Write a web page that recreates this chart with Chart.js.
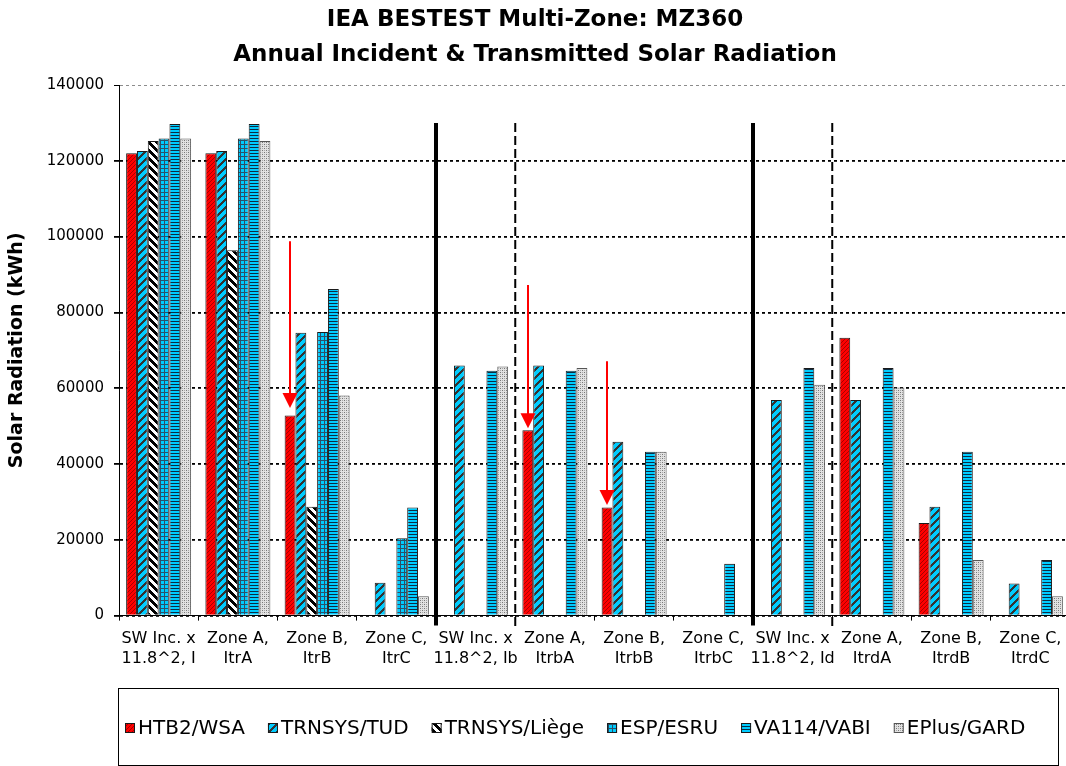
<!DOCTYPE html>
<html>
<head>
<meta charset="utf-8">
<title>IEA BESTEST Multi-Zone: MZ360</title>
<script src="https://cdn.jsdelivr.net/npm/chart.js@4.4.1/dist/chart.umd.min.js"></script>
<style>
  html, body { margin: 0; padding: 0; background: #fff; overflow: hidden; }
  canvas { display: block; }
</style>
</head>
<body>
<canvas id="mzChart" width="1075" height="766"></canvas>
<script>
// categories (two-line tick labels)
const zones = [
  ['SW Inc. x', '11.8^2, I'], ['Zone A,', 'ItrA'], ['Zone B,', 'ItrB'], ['Zone C,', 'ItrC'],
  ['SW Inc. x', '11.8^2, Ib'], ['Zone A,', 'ItrbA'], ['Zone B,', 'ItrbB'], ['Zone C,', 'ItrbC'],
  ['SW Inc. x', '11.8^2, Id'], ['Zone A,', 'ItrdA'], ['Zone B,', 'ItrdB'], ['Zone C,', 'ItrdC']
];

// annual solar radiation, kWh
const htb2Wsa     = [122000, 122000, 52800, null, null, 48900, 28500, null, null, 73300, 24400, null];
const trnsysTud   = [122600, 122600, 74600, 8700, 66000, 66000, 45900, null, 56900, 56900, 28700, 8500];
const trnsysLiege = [125200, 96400, 28700, null, null, null, null, null, null, null, null, null];
const espEsru     = [125900, 125900, 74800, 20400, null, null, null, null, null, null, null, null];
const va114Vabi   = [129700, 129700, 86200, 28500, 64600, 64600, 43200, 13700, 65300, 65300, 43200, 14700];
const eplusGard   = [125900, 125200, 58100, 5100, 65700, 65300, 43200, null, 60900, 60200, 14700, 5100];

// red arrows pointing at the HTB2 bars
const arrowZone = [2, 5, 6];
const arrowFrom = [98800, 87200, 67100];
const arrowTo   = [54800, 49400, 29200];

// separators drawn between zones (after index)
const heavySplits  = [3, 7];
const dashedSplits = [4, 8];

const yTicks = [0, 20000, 40000, 60000, 80000, 100000, 120000, 140000];

const CYAN = '#00ccff';

function pattern(w, h, paint) {
  const c = document.createElement('canvas');
  c.width = w; c.height = h;
  const g = c.getContext('2d');
  paint(g);
  return g.createPattern(c, 'repeat');
}

const patHtb2 = pattern(4, 4, g => {
  g.fillStyle = '#ff0000'; g.fillRect(0, 0, 4, 4);
  g.fillStyle = '#a80000';
  for (let i = 0; i < 4; i++) g.fillRect(i, 3 - i, 1, 1);
});
const patTud = pattern(8, 8, g => {
  g.fillStyle = CYAN; g.fillRect(0, 0, 8, 8);
  g.fillStyle = '#333333';
  for (let x = 0; x < 8; x++) for (let t = 0; t < 3; t++) g.fillRect(x, (7 - x + t) % 8, 1, 1);
});
const patLiege = pattern(8, 8, g => {
  g.fillStyle = '#ffffff'; g.fillRect(0, 0, 8, 8);
  g.fillStyle = '#000000';
  for (let x = 0; x < 8; x++) for (let t = 0; t < 4; t++) g.fillRect(x, (x + t) % 8, 1, 1);
});
const patEsp = pattern(4, 4, g => {
  g.fillStyle = CYAN; g.fillRect(0, 0, 4, 4);
  g.fillStyle = '#2c5068';
  g.fillRect(0, 0, 1, 4); g.fillRect(0, 0, 4, 1);
});
const patVa = pattern(3, 3, g => {
  g.fillStyle = CYAN; g.fillRect(0, 0, 3, 3);
  g.fillStyle = '#0b2c44';
  g.fillRect(0, 0, 3, 1);
});
const patEplus = pattern(4, 4, g => {
  g.fillStyle = '#e2e2e2'; g.fillRect(0, 0, 4, 4);
  g.fillStyle = '#777777';
  g.fillRect(0, 0, 1, 1); g.fillRect(2, 2, 1, 1);
  g.fillStyle = '#a8a8a8';
  g.fillRect(2, 0, 1, 1); g.fillRect(0, 2, 1, 1);
});

const FONT = '"DejaVu Sans", sans-serif';

const splitLines = {
  id: 'splitLines',
  afterDatasetsDraw(chart) {
    const {ctx, scales: {x, y}} = chart;
    const top = y.getPixelForValue(130000);
    const mid = i => (x.getPixelForValue(i) + x.getPixelForValue(i + 1)) / 2;
    ctx.save();
    ctx.strokeStyle = '#000';
    ctx.lineWidth = 4;
    heavySplits.forEach(i => {
      ctx.beginPath(); ctx.moveTo(mid(i), top); ctx.lineTo(mid(i), y.bottom + 10); ctx.stroke();
    });
    ctx.lineWidth = 2;
    ctx.setLineDash([9, 4]);
    dashedSplits.forEach(i => {
      ctx.beginPath(); ctx.moveTo(mid(i), top); ctx.lineTo(mid(i), y.bottom + 11); ctx.stroke();
    });
    ctx.restore();

    // arrows
    const bars = chart.getDatasetMeta(0).data;
    ctx.save();
    ctx.strokeStyle = '#ff0000';
    ctx.fillStyle = '#ff0000';
    ctx.lineWidth = 2;
    arrowZone.forEach((z, k) => {
      const ax = Math.round(bars[z].x);
      const y1 = y.getPixelForValue(arrowFrom[k]);
      const y2 = y.getPixelForValue(arrowTo[k]);
      ctx.beginPath(); ctx.moveTo(ax, y1); ctx.lineTo(ax, y2 - 12); ctx.stroke();
      ctx.beginPath();
      ctx.moveTo(ax - 7.5, y2 - 15); ctx.lineTo(ax + 7.5, y2 - 15); ctx.lineTo(ax, y2);
      ctx.closePath(); ctx.fill();
    });
    ctx.restore();
  }
};

const legendBox = {
  id: 'legendBox',
  afterDraw(chart) {
    const {ctx, chartArea} = chart;
    const left = chartArea.left - 1;
    const right = chartArea.right - 12;
    const top = chart.height - 78;
    const bottom = chart.height - 1;
    ctx.save();
    ctx.strokeStyle = '#000';
    ctx.lineWidth = 1;
    ctx.strokeRect(left + 0.5, top + 0.5, right - left, bottom - top);
    ctx.font = '20px ' + FONT;
    ctx.textBaseline = 'middle';
    const cy = top + 40;
    let x = left + 7;
    chart.data.datasets.forEach(ds => {
      ctx.fillStyle = ds.backgroundColor;
      ctx.fillRect(x, cy - 5, 10, 10);
      ctx.strokeStyle = ds.borderColor;
      ctx.strokeRect(x + 0.5, cy - 4.5, 9, 9);
      ctx.fillStyle = '#000';
      ctx.fillText(ds.label, x + 13, cy + 1);
      x += 13 + ctx.measureText(ds.label).width + 23;
    });
    ctx.restore();
  }
};

const mzChart = new Chart(document.getElementById('mzChart'), {
  type: 'bar',
  data: {
    labels: zones,
    datasets: [
      { label: 'HTB2/WSA',     data: htb2Wsa,     backgroundColor: patHtb2,  borderColor: '#1a1a1a' },
      { label: 'TRNSYS/TUD',   data: trnsysTud,   backgroundColor: patTud,   borderColor: '#1a1a1a' },
      { label: 'TRNSYS/Liège', data: trnsysLiege, backgroundColor: patLiege, borderColor: '#1a1a1a' },
      { label: 'ESP/ESRU',     data: espEsru,     backgroundColor: patEsp,   borderColor: '#1a1a1a' },
      { label: 'VA114/VABI',   data: va114Vabi,   backgroundColor: patVa,    borderColor: '#1a1a1a' },
      { label: 'EPlus/GARD',   data: eplusGard,   backgroundColor: patEplus, borderColor: '#555555' }
    ]
  },
  options: {
    responsive: false,
    animation: false,
    datasets: { bar: { borderWidth: 1, barPercentage: 1, categoryPercentage: 0.82 } },
    layout: { padding: { left: 0, right: 5, top: 0, bottom: 89 } },
    plugins: {
      legend: { display: false },
      tooltip: { enabled: false },
      title: {
        display: true,
        text: ['IEA BESTEST Multi-Zone: MZ360', 'Annual Incident & Transmitted Solar Radiation'],
        color: '#000',
        font: { family: FONT, size: 23, weight: 'bold', lineHeight: 1.5 },
        padding: { top: 3, bottom: 13 }
      }
    },
    scales: {
      x: {
        grid: { display: true, drawOnChartArea: false, drawTicks: true, tickLength: 5, offset: true, color: '#000' },
        border: { display: true, color: '#000', width: 1 },
        ticks: { color: '#000', padding: 9, maxRotation: 0, autoSkip: false, font: { family: FONT, size: 16 } }
      },
      y: {
        min: 0,
        max: 140000,
        afterBuildTicks: s => { s.ticks = yTicks.map(v => ({ value: v })); },
        afterFit: s => { s.width = 119; },
        grid: {
          color: c => (c.tick && c.tick.value === 140000 ? '#8c8c8c' : '#000'),
          lineWidth: c => (c.tick && c.tick.value === 140000 ? 1 : 1.8),
          tickColor: '#000',
          tickLength: 5
        },
        border: { display: true, color: '#000', width: 1, dash: [3, 3] },
        ticks: {
          color: '#000',
          padding: 10,
          font: { family: FONT, size: 15 },
          callback: v => String(v)
        },
        title: {
          display: true,
          text: 'Solar Radiation (kWh)',
          color: '#000',
          font: { family: FONT, size: 19, weight: 'bold' },
          padding: { top: 6, bottom: 0 }
        }
      }
    }
  },
  plugins: [splitLines, legendBox]
});
</script>
</body>
</html>
